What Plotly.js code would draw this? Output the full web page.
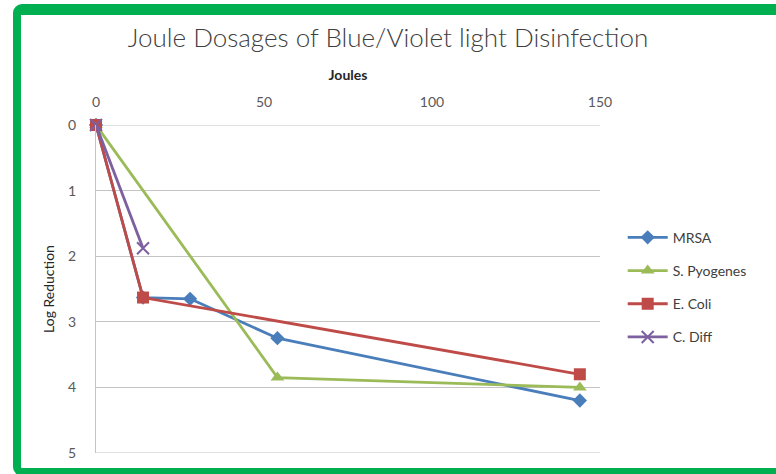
<!DOCTYPE html>
<html>
<head>
<meta charset="utf-8">
<script src="https://cdn.plot.ly/plotly-3.0.1.min.js"></script>
<style>
  html, body { margin: 0; padding: 0; background: #ffffff; overflow: hidden; }
  #wrap { position: relative; width: 776px; height: 474px; }
  #chart { position: absolute; left: 0; top: 0; width: 776px; height: 474px; }
  #frame {
    position: absolute; left: 13px; top: 4px; width: 800px; height: 472px;
    box-sizing: border-box; border: solid #00b050; border-width: 11px 8px 8px 8px;
    border-radius: 9px; pointer-events: none;
  }
</style>
</head>
<body>
<div id="wrap">
  <div id="chart"></div>
  <div id="frame"></div>
</div>
<script>
const seriesNames = ["MRSA", "S. Pyogenes", "E. Coli", "C. Diff"];
const mrsaX = [0, 14, 28, 54, 144];
const mrsaY = [0, 2.63, 2.65, 3.25, 4.2];
const pyoX = [0, 54, 144];
const pyoY = [0, 3.85, 4.0];
const coliX = [0, 14, 144];
const coliY = [0, 2.63, 3.8];
const diffX = [0, 14];
const diffY = [0, 1.88];
const xTicks = [0, 50, 100, 150];
const yTicks = [0, 1, 2, 3, 4, 5];

const FONT = "Lato, 'Open Sans', sans-serif";
const colors = ["#4a7ebb", "#9bbb59", "#be4b48", "#7d60a0"];
const symbols = ["diamond", "triangle-up", "square", "x-thin-open"];
const sizes = [11, 12, 12, 12];
const xs = [mrsaX, pyoX, coliX, diffX];
const ys = [mrsaY, pyoY, coliY, diffY];

const traces = seriesNames.map((n, i) => ({
  type: "scatter", mode: "lines+markers", name: n,
  x: xs[i], y: ys[i], legendgroup: "g" + i,
  line: { color: colors[i], width: 2.8 },
  marker: { symbol: symbols[i], size: sizes[i], color: colors[i],
            line: { color: colors[i], width: i === 3 ? 2 : 0 } },
  cliponaxis: false
}));

const layout = {
  width: 776, height: 474,
  margin: { l: 96, r: 176, t: 125, b: 21, pad: 0 },
  paper_bgcolor: "#ffffff", plot_bgcolor: "#ffffff",
  font: { family: FONT, color: "#404040", size: 13 },
  title: { text: "Joule Dosages of Blue/Violet light Disinfection",
           font: { family: FONT, size: 26, color: "#404040", weight: 300 },
           x: 0.5, xanchor: "center", y: 0.92, yanchor: "middle" },
  xaxis: {
    side: "top", range: [0, 150], tickvals: xTicks, ticktext: xTicks.map(String),
    showgrid: false, zeroline: false, showline: false, ticks: "",
    ticklabelstandoff: 14,
    tickfont: { family: FONT, size: 14, color: "#595959" },
    title: { text: "<b>Joules</b>", font: { family: FONT, size: 14, color: "#262626" }, standoff: 9 }
  },
  yaxis: {
    range: [5, 0], tickvals: yTicks, ticktext: yTicks.map(String),
    showgrid: true, gridcolor: "#c4c4c4", gridwidth: 1.2, zeroline: false,
    showline: true, linecolor: "#c4c4c4", linewidth: 1.2, ticks: "",
    ticklabelstandoff: 16,
    tickfont: { family: FONT, size: 14, color: "#595959" },
    title: { text: "Log Reduction", font: { family: FONT, size: 14, color: "#262626" }, standoff: 10 }
  },
  shapes: [
    { type: "line", xref: "paper", yref: "y", x0: 0, x1: 1, y0: 5, y1: 5,
      line: { color: "#c4c4c4", width: 1.2 }, layer: "below" },
    { type: "line", xref: "paper", yref: "y", x0: 0, x1: 1, y0: 0, y1: 0,
      line: { color: "#c4c4c4", width: 1.2 }, layer: "below" }
  ],
  legend: {
    x: 1.045, xanchor: "left", y: 0.705, yanchor: "top",
    font: { family: FONT, size: 14, color: "#404040" },
    tracegroupgap: 12, bgcolor: "rgba(0,0,0,0)", itemwidth: 40
  },
  showlegend: true
};

Plotly.newPlot("chart", traces, layout, { displayModeBar: false, staticPlot: true });
</script>
</body>
</html>
